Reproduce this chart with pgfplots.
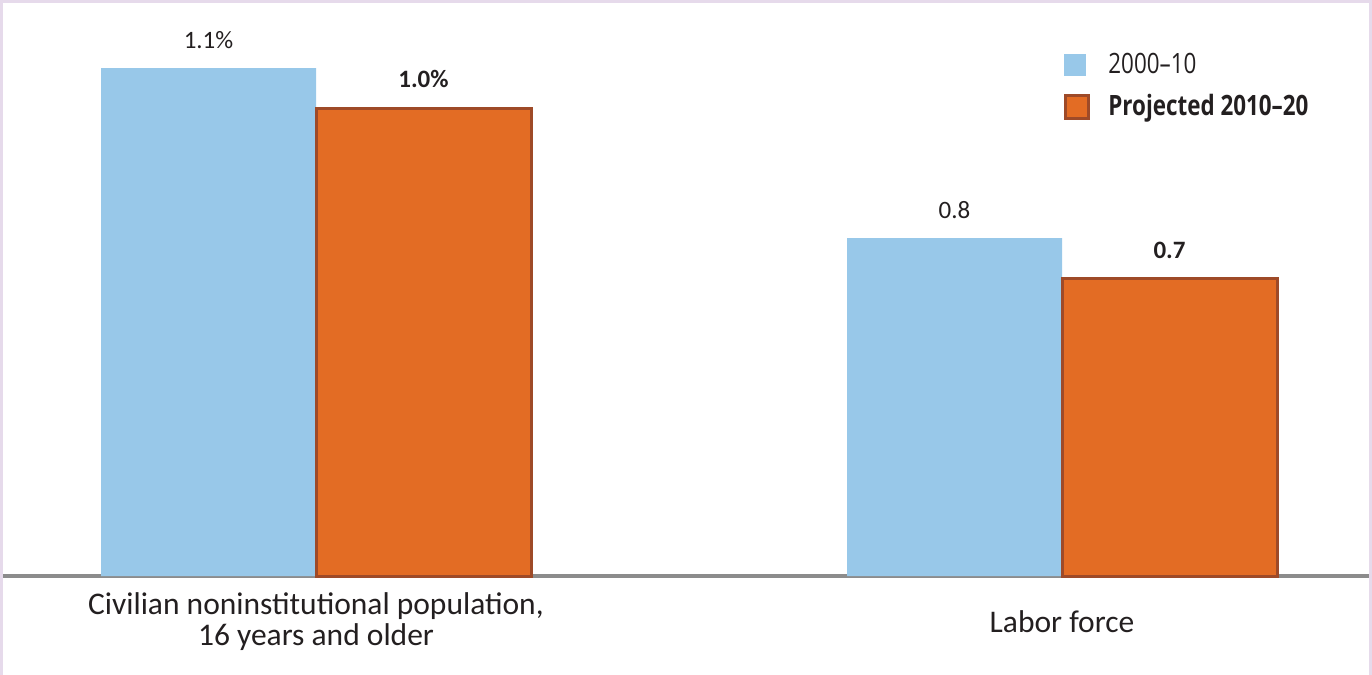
\documentclass[border=0pt]{standalone}
\usepackage{pgfplots}
\pgfplotsset{compat=1.18}
\usepackage{fontspec}
\setmainfont{Carlito}
\newfontfamily\condfont[FakeStretch=0.8,Ligatures=TeX]{Open Sans}
\definecolor{barblue}{HTML}{98C8E9}
\definecolor{barorange}{HTML}{E36C24}
\definecolor{barborder}{HTML}{9E4A28}
\definecolor{axisgrey}{HTML}{8C8C8C}
\definecolor{framepurple}{HTML}{E6DAEB}
\definecolor{txt}{HTML}{231F20}
\begin{document}
\begin{tikzpicture}
\useasboundingbox (0,-49.5pt) rectangle (686pt,288pt);
\begin{axis}[
  scale only axis, width=686pt, height=288pt,
  xmin=-0.4236, xmax=1.4155, ymin=0, ymax=1.2468,
  ybar=0pt, bar width=107.5pt,
  axis y line=none, axis x line*=bottom,
  x axis line style={axisgrey, line width=2pt, -},
  xtick={0,1},
  xticklabels={{Civilian noninstitutional population,\\16 years and older},{Labor force}},
  xticklabel style={align=center, font=\fontsize{15.75}{15.5}\selectfont, text=txt, anchor=center, yshift=-23pt},
  major tick length=0pt,
  ytick=\empty,
  nodes near coords, point meta=explicit symbolic,
  nodes near coords style={font=\fontsize{12.5}{15}\selectfont, text=txt, yshift=6pt},
  clip=false,
  legend style={draw=none, fill=none, at={(0.7755,0.915)}, anchor=north west,
    font=\condfont\fontsize{14}{16}\selectfont, text=txt, inner sep=0pt, row sep=5pt,
    /tikz/every odd column/.append style={column sep=7pt}},
  legend cell align=left,
]
\addplot[fill=barblue, draw=none,
  legend image code/.code={\fill[barblue] (0pt,-5.5pt) rectangle (11pt,5.5pt);}]
  coordinates {(0,1.0996)[1.1\%] (1,0.7316)[0.8]};
\addlegendentry{2000–10}
\addplot[fill=barorange, draw=barborder, line width=1.5pt,
  nodes near coords style={font=\fontsize{12.5}{15}\selectfont\bfseries},
  legend image code/.code={\draw[fill=barorange, draw=barborder, line width=1.5pt] (0.75pt,-5.75pt) rectangle (12.25pt,5.75pt);}]
  coordinates {(0,1.013)[1.0\%] (1,0.643)[0.7]};
\addlegendentry{\textbf{Projected 2010–20}}
\end{axis}
\draw[framepurple, line width=1.5pt] (0.75pt,-49.5pt) -- (0.75pt,287.25pt) -- (685.25pt,287.25pt) -- (685.25pt,-49.5pt);
\end{tikzpicture}
\end{document}
